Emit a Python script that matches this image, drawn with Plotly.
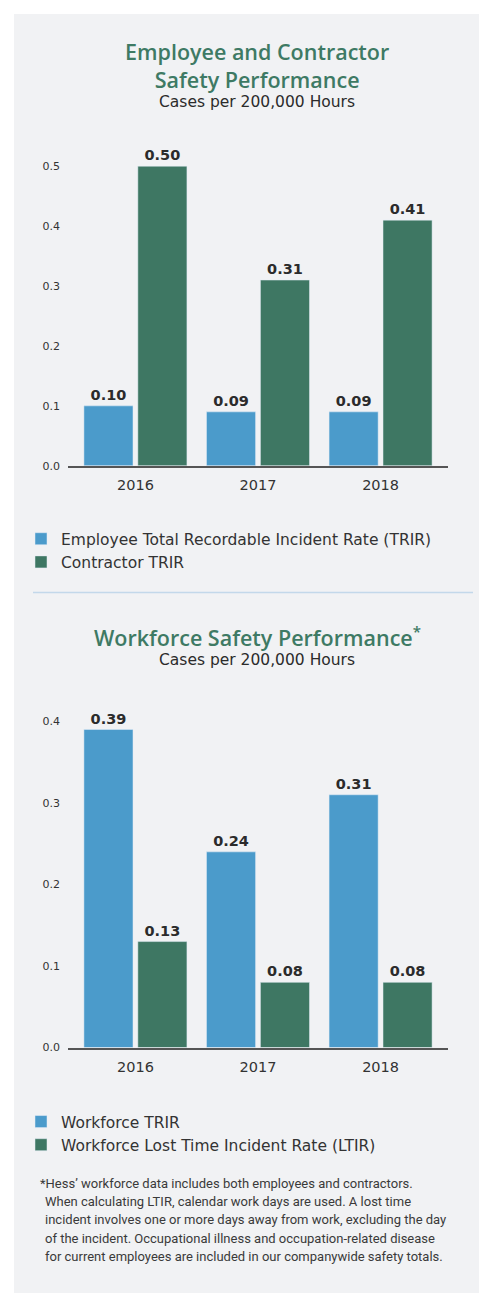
import plotly.graph_objects as go

W, H = 479, 1293

years = ["2016", "2017", "2018"]
employee_trir = [0.10, 0.09, 0.09]
contractor_trir = [0.50, 0.31, 0.41]
workforce_trir = [0.39, 0.24, 0.31]
workforce_ltir = [0.13, 0.08, 0.08]
y_ticks_1 = [0.0, 0.1, 0.2, 0.3, 0.4, 0.5]
y_ticks_2 = [0.0, 0.1, 0.2, 0.3, 0.4]

BLUE = "#4b9bcb"
GREEN = "#3e7763"
TITLE_GREEN = "#3e7a64"
TEXT = "#2b2b2b"
FONT = "DejaVu Sans"
TITLE_FONT = "Open Sans"
FOOT_FONT = "Liberation Sans Narrow, Roboto, sans-serif"


def px(x):
    return x / W


def py(y):
    return 1 - y / H


fig = go.Figure()

bar_text_font = dict(family=FONT, size=14.5, color=TEXT, weight="bold")

fig.add_trace(go.Bar(x=years, y=employee_trir, name="Employee Total Recordable Incident Rate (TRIR)",
                     marker_color=BLUE, text=[f"{v:.2f}" for v in employee_trir], textposition="outside",
                     textfont=bar_text_font, cliponaxis=False, xaxis="x", yaxis="y", legend="legend"))
fig.add_trace(go.Bar(x=years, y=contractor_trir, name="Contractor TRIR",
                     marker_color=GREEN, text=[f"{v:.2f}" for v in contractor_trir], textposition="outside",
                     textfont=bar_text_font, cliponaxis=False, xaxis="x", yaxis="y", legend="legend"))
fig.add_trace(go.Bar(x=years, y=workforce_trir, name="Workforce TRIR",
                     marker_color=BLUE, text=[f"{v:.2f}" for v in workforce_trir], textposition="outside",
                     textfont=bar_text_font, cliponaxis=False, xaxis="x2", yaxis="y2", legend="legend2"))
fig.add_trace(go.Bar(x=years, y=workforce_ltir, name="Workforce Lost Time Incident Rate (LTIR)",
                     marker_color=GREEN, text=[f"{v:.2f}" for v in workforce_ltir], textposition="outside",
                     textfont=bar_text_font, cliponaxis=False, xaxis="x2", yaxis="y2", legend="legend2"))

xaxis_common = dict(showgrid=False, showline=True, linecolor="#555555", linewidth=1.5,
                    ticks="", tickfont=dict(family=FONT, size=14.5, color="#333333"),
                    ticklabelstandoff=5,
                    range=[-0.55, 2.55], fixedrange=True, domain=[px(68), px(448)])
yaxis_common = dict(showgrid=False, zeroline=False, showline=False, ticks="",
                    tickfont=dict(family=FONT, size=11, color="#333333"), tickformat=".1f",
                    ticklabelstandoff=7, fixedrange=True)

fig.update_layout(
    width=W, height=H,
    margin=dict(l=0, r=0, t=0, b=0),
    paper_bgcolor="white",
    plot_bgcolor="rgba(0,0,0,0)",
    barmode="group", bargap=0.12, bargroupgap=0.09,
    showlegend=True,
    xaxis=dict(**xaxis_common, anchor="y"),
    yaxis=dict(**yaxis_common, anchor="x", range=[0, 0.55], tickvals=y_ticks_1,
               domain=[py(468.3), py(137)]),
    xaxis2=dict(**xaxis_common, anchor="y2"),
    yaxis2=dict(**yaxis_common, anchor="x2", range=[0, 0.43], tickvals=y_ticks_2,
                domain=[py(1053.3), py(700.7)]),
    legend=dict(x=px(21), y=py(525), xanchor="left", yanchor="top", bgcolor="rgba(0,0,0,0)",
                font=dict(family=FONT, size=15.5, color="#333333"), itemclick=False, tracegroupgap=0),
    legend2=dict(x=px(21), y=py(1111), xanchor="left", yanchor="top", bgcolor="rgba(0,0,0,0)",
                 font=dict(family=FONT, size=15.5, color="#333333"), itemclick=False, tracegroupgap=0),
)

# grey panel
fig.add_shape(type="rect", xref="paper", yref="paper", x0=px(14), x1=1.02, y0=-0.02, y1=py(14),
              fillcolor="#f1f2f4", line_width=0, layer="below")
# separator line
fig.add_shape(type="line", xref="paper", yref="paper", x0=px(33), x1=px(473), y0=py(595.7), y1=py(595.7),
              line=dict(color="#c3d8ea", width=1.5))

def ann(text, x, y, size, color, family=FONT, weight="normal", xanchor="center"):
    fig.add_annotation(text=text, x=px(x), y=py(y), xref="paper", yref="paper", showarrow=False,
                       xanchor=xanchor, yanchor="middle",
                       font=dict(family=family, size=size, color=color, weight=weight))

ann("Employee and Contractor<br>Safety Performance", 257, 66, 21.5, TITLE_GREEN, family=TITLE_FONT, weight=600)
ann("Cases per 200,000 Hours", 257, 103, 15.5, TEXT)
ann("Workforce Safety Performance<sup>*</sup>", 257, 640, 21.5, TITLE_GREEN, family=TITLE_FONT, weight=600)
ann("Cases per 200,000 Hours", 257, 664, 15.5, TEXT)

foot = [
    ("*Hess\u2019 workforce data includes both employees and contractors.", 38),
    ("When calculating LTIR, calendar work days are used. A lost time", 43),
    ("incident involves one or more days away from work, excluding the day", 43),
    ("of the incident. Occupational illness and occupation-related disease", 43),
    ("for current employees are included in our companywide safety totals.", 43),
]
for i, (line, x0) in enumerate(foot):
    ann(line, x0, 1190 + i * 18.3, 13, "#3a3a3a", family=FOOT_FONT, xanchor="left")

fig.write_html(
    "out.html",
    config={"displayModeBar": False},
    post_script="document.body.style.margin='0px';document.body.style.background='#f1f2f4';",
)
